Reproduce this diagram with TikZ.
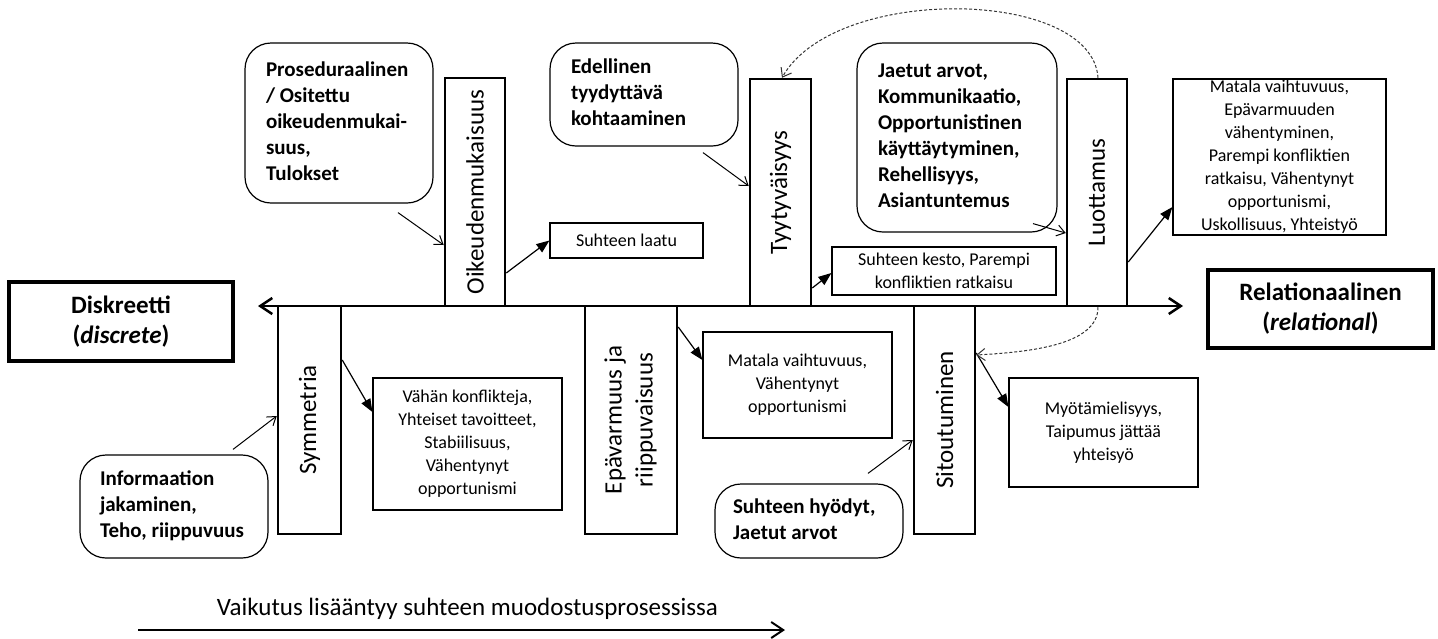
\documentclass[tikz,border=0pt]{standalone}
\usepackage{fontspec}
\setmainfont{Carlito}
\usepackage{graphicx}
\usetikzlibrary{arrows.meta}
\newcommand\ftBold{\fontsize{21}{26}\selectfont\bfseries}
\newcommand\ftSmall{\fontsize{18}{23}\selectfont}
\newcommand\ftVert{\fontsize{25}{31}\selectfont}
\newcommand\ftBig{\fontsize{25}{30}\selectfont\bfseries}
\newcommand\lines[1]{\spaceskip=0pt\relax\xspaceskip=0pt\relax\begin{tabular}{@{}l@{}}#1\end{tabular}}
\begin{document}
\begin{tikzpicture}[x=1pt,y=-1pt,
  every node/.append style={execute at begin node={\spaceskip=0pt\relax\xspaceskip=0pt\relax}},
  concept/.style={draw, line width=2.5pt, inner sep=0pt, font=\ftVert},
  roundbox/.style={draw, line width=1.2pt, rounded corners=26pt, inner xsep=21pt, inner ysep=0pt, align=left, font=\ftBold},
  smallbox/.style={draw, line width=1.2pt, inner sep=0pt, align=center, font=\ftSmall},
  endbox/.style={draw, line width=3.2pt, inner sep=0pt, align=center, font=\ftBig},
  inarrow/.style={line width=1pt, -{Straight Barb[length=8pt,width=11pt]}},
  outarrow/.style={line width=1.2pt, -{Triangle[length=13pt,width=10pt]}},
  feedback/.style={line width=1pt, dash pattern=on 3pt off 2pt, draw=black!80, -{Straight Barb[length=8pt,width=12pt]}},
  axisline/.style={line width=2.5pt},
  bigtip/.tip={Straight Barb[length=12pt,width=16pt]}
]
\fill[white] (0,0) rectangle (1438,638);
\useasboundingbox (0,0) rectangle (1438,638);

% axis
\coordinate (axL) at (258,306);
\coordinate (axR) at (1183,306);
\draw[axisline, bigtip-bigtip] (axL) -- (axR);

% end boxes
\node[endbox, minimum width=224pt, minimum height=79pt] (dis) at (121,321.5) {Diskreetti\\(\textit{discrete})};
\node[endbox, minimum width=225pt, minimum height=78pt] (rel) at (1320.5,309) {Relationaalinen\\(\textit{relational})};

% concept boxes
\node[concept, minimum width=60pt, minimum height=228pt] (oik) at (475,192) {\rotatebox{90}{Oikeudenmukaisuus}};
\node[concept, minimum width=61pt, minimum height=227pt] (tyy) at (780.5,192.5) {\rotatebox{90}{Tyytyväisyys}};
\node[concept, minimum width=60pt, minimum height=227pt] (luo) at (1097,192.5) {\rotatebox{90}{Luottamus}};
\node[concept, minimum width=63pt, minimum height=228pt] (sym) at (309.5,420) {\rotatebox{90}{Symmetria}};
\node[concept, minimum width=92pt, minimum height=228pt] (epa) at (631,420) {\rotatebox{90}{\begin{tabular}{@{}c@{}}Epävarmuus ja\\riippuvaisuus\end{tabular}}};
\node[concept, minimum width=61pt, minimum height=228pt] (sit) at (944.5,420) {\rotatebox{90}{Sitoutuminen}};

% rounded antecedent boxes
\node[roundbox, text width=146pt, minimum height=160pt] (pro) at (339,123) {\lines{Proseduraalinen\\/ Ositettu\\oikeudenmukai-\\suus,\\Tulokset}};
\node[roundbox, text width=146pt, minimum height=103pt] (ede) at (644,94.5) {\lines{Edellinen\\tyydyttävä\\kohtaaminen}};
\node[roundbox, text width=158pt, minimum height=189pt] (jae) at (957,137.5) {\lines{Jaetut arvot,\\Kommunikaatio,\\Opportunistinen\\käyttäytyminen,\\Rehellisyys,\\Asiantuntemus}};
\node[roundbox, inner xsep=20pt, text width=148pt, minimum height=103pt] (inf) at (174,506.5) {\lines{Informaation\\jakaminen,\\Teho, riippuvuus}};
\node[roundbox, inner xsep=18pt, text width=152pt, minimum height=74pt] (suh) at (809,521) {\lines{Suhteen hyödyt,\\Jaetut arvot}};

% outcome boxes
\node[smallbox, minimum width=153pt, minimum height=35pt] (laa) at (626.5,240.5) {Suhteen laatu};
\node[smallbox, minimum width=224pt, minimum height=48pt] (kes) at (944,271) {Suhteen kesto, Parempi\\konfliktien ratkaisu};
\node[smallbox, minimum width=213pt, minimum height=156pt] (mtop) at (1279.5,157) {Matala vaihtuvuus,\\Epävarmuuden\\vähentyminen,\\Parempi konfliktien\\ratkaisu, Vähentynyt\\opportunismi,\\Uskollisuus, Yhteistyö};
\node[smallbox, minimum width=189pt, minimum height=132pt] (vah) at (467.5,444) {Vähän konflikteja,\\Yhteiset tavoitteet,\\Stabiilisuus,\\Vähentynyt\\opportunismi};
\node[smallbox, minimum width=189pt, minimum height=106pt] (mmid) at (797.5,385) {Matala vaihtuvuus,\\Vähentynyt\\opportunismi};
\node[smallbox, minimum width=189pt, minimum height=109pt] (myo) at (1103.5,432.5) {Myötämielisyys,\\Taipumus jättää\\yhteisyö};

% input arrows
\draw[inarrow] ([shift={(59,9)}]pro.south) -- ([shift={(0,53)}]oik.west);
\draw[inarrow] ([shift={(59,6)}]ede.south) -- ([shift={(0,-6.5)}]tyy.west);
\draw[inarrow] ([shift={(76,-9)}]jae.south) -- ([shift={(0,40.5)}]luo.west);
\draw[inarrow] ([shift={(59,-5)}]inf.north) -- ([shift={(0,-4)}]sym.west);
\draw[inarrow] ([shift={(59,-10)}]suh.north) -- ([shift={(0,20)}]sit.west);

% output arrows
\draw[outarrow] ([shift={(0,81)}]oik.east) -- (laa.west);
\draw[outarrow] ([shift={(0,95.5)}]tyy.east) -- ([shift={(0,2)}]kes.west);
\draw[outarrow] ([shift={(0,69.5)}]luo.east) -- ([shift={(0,50)}]mtop.west);
\draw[outarrow] ([shift={(0,-60)}]sym.east) -- ([shift={(0,-32)}]vah.west);
\draw[outarrow] ([shift={(0,-93)}]epa.east) -- ([shift={(0,-25)}]mmid.west);
\draw[outarrow] ([shift={(0,-67)}]sit.east) -- ([shift={(0,-25.5)}]myo.west);

% feedback arrows
\draw[feedback] ([shift={(1,0)}]luo.north) .. controls (1092,-12) and (835,-16) .. ([shift={(1.5,0)}]tyy.north);
\draw[feedback] ([shift={(1,0)}]luo.south) .. controls (1098,345) and (1030,352) .. ([shift={(0,-65)}]sit.east);

% bottom process arrow
\node[font=\fontsize{25}{30}\selectfont, inner sep=0pt, anchor=base] (vai) at (467.5,615) {Vaikutus lisääntyy suhteen muodostusprosessissa};
\coordinate (bL) at (138,630);
\coordinate (bR) at (785,630);
\draw[line width=2pt, -bigtip] (bL) -- (bR);
\end{tikzpicture}
\end{document}
